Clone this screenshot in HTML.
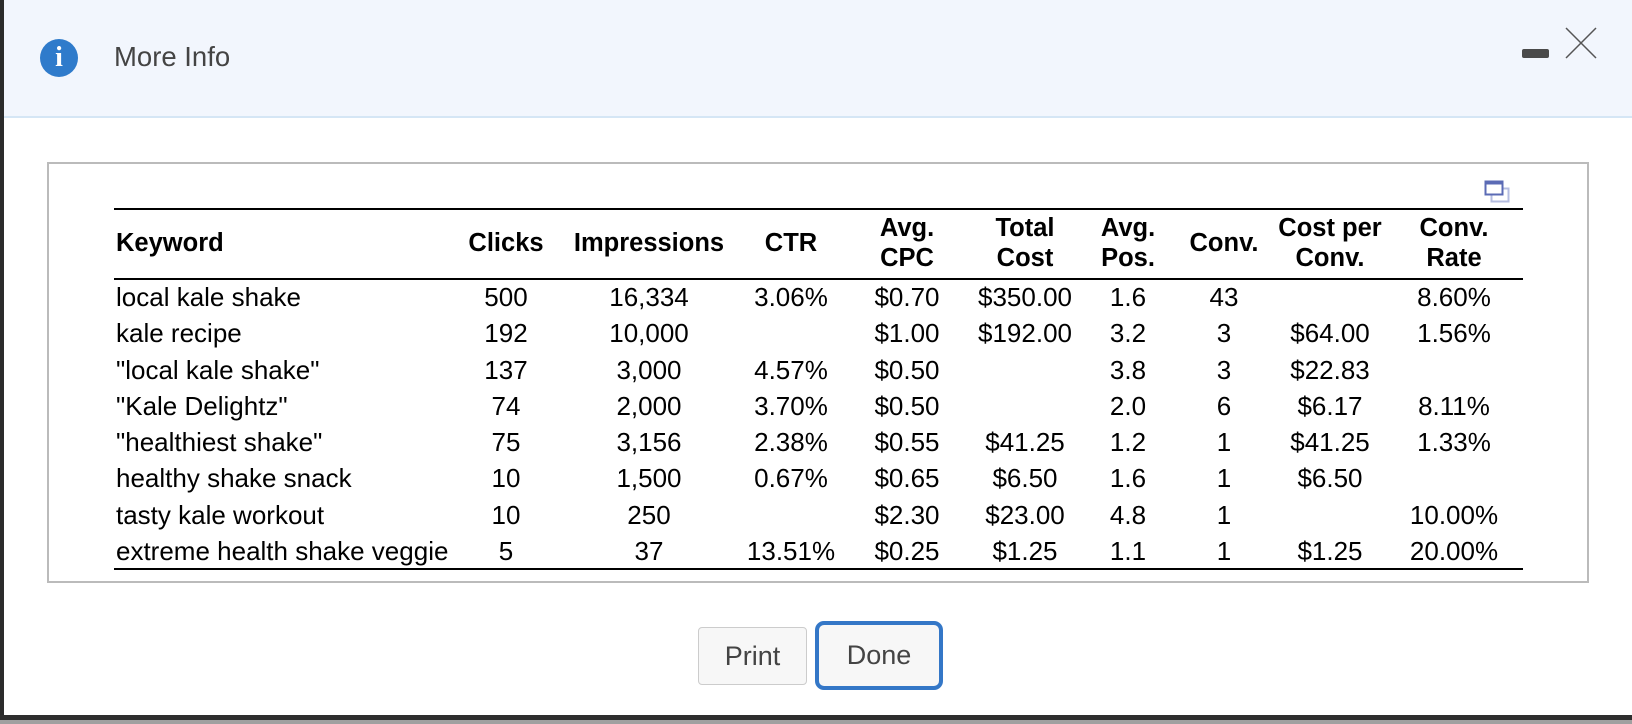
<!DOCTYPE html>
<html><head><meta charset="utf-8">
<style>
html,body{margin:0;padding:0;}
body{width:1632px;height:724px;position:relative;overflow:hidden;background:#fff;font-family:"Liberation Sans",Arial,sans-serif;}
.abs{position:absolute;}
#header{left:0;top:0;width:1632px;height:116px;background:#f2f6fd;border-bottom:2px solid #d5e6f5;}
#leftbar{left:0;top:0;width:4px;height:724px;background:#2b2b2b;}
#info{left:40px;top:39px;width:38px;height:38px;border-radius:50%;background:#2f7bcb;color:#fff;font:bold 28px "Liberation Serif",serif;text-align:center;line-height:38px;}
#title{left:114px;top:41px;font-size:27.5px;color:#444;}
#minus{left:1522px;top:49px;width:27px;height:9px;background:#4a4a4a;border-radius:2px;}
#panel{left:47px;top:162px;width:1538px;height:417px;border:2px solid #bbb;}
.cell{position:absolute;font-size:26px;color:#000;white-space:nowrap;line-height:30px;}
.hd{font-weight:bold;font-size:25.5px;}
.rule{position:absolute;left:114px;width:1409px;height:2px;background:#000;}
.btn{position:absolute;background:#f7f7f7;color:#444;font-size:27px;text-align:center;box-sizing:border-box;}
#bottom1{left:0;top:715px;width:1632px;height:5px;background:#2e2e2e;}
#bottom2{left:0;top:720px;width:1632px;height:4px;background:#a0a0a0;}
</style></head>
<body>
<div id="header" class="abs"></div>
<div id="leftbar" class="abs"></div>
<div id="info" class="abs">i</div>
<div id="title" class="abs">More Info</div>
<div id="minus" class="abs"></div>
<svg class="abs" style="left:1562px;top:24px" width="38" height="38">
<line x1="4" y1="4" x2="34" y2="34" stroke="#555" stroke-width="1.5"/><line x1="34" y1="4" x2="4" y2="34" stroke="#555" stroke-width="1.5"/></svg>
<div id="panel" class="abs"></div>
<svg class="abs" style="left:1483px;top:179px" width="30" height="26">
<rect x="8.5" y="9.5" width="17" height="13" fill="none" stroke="#b5bde0" stroke-width="2"/>
<rect x="2.5" y="2.5" width="17" height="13" fill="#fff" stroke="#5b6bb5" stroke-width="2"/>
<rect x="2.5" y="2.5" width="17" height="3" fill="#5b6bb5"/></svg>
<div class="rule" style="top:208px"></div>
<div class="rule" style="top:278px"></div>
<div class="rule" style="top:568px"></div>
<div id="table"></div>
<div class="btn" style="left:698px;top:627px;width:109px;height:58px;border:1px solid #ccc;border-radius:4px;line-height:56px;">Print</div>
<div class="btn" style="left:815px;top:621px;width:128px;height:69px;border:4px solid #3477c7;border-radius:9px;line-height:61px;">Done</div>
<div id="bottom1" class="abs"></div>
<div id="bottom2" class="abs"></div>
<script>
var headers = [["Keyword"],["Clicks"],["Impressions"],["CTR"],["Avg.","CPC"],["Total","Cost"],["Avg.","Pos."],["Conv."],["Cost per","Conv."],["Conv.","Rate"]];
var keywords = ["local kale shake","kale recipe","\"local kale shake\"","\"Kale Delightz\"","\"healthiest shake\"","healthy shake snack","tasty kale workout","extreme health shake veggie"];
var clicks = ["500","192","137","74","75","10","10","5"];
var impressions = ["16,334","10,000","3,000","2,000","3,156","1,500","250","37"];
var ctr = ["3.06%","","4.57%","3.70%","2.38%","0.67%","","13.51%"];
var avgCpc = ["$0.70","$1.00","$0.50","$0.50","$0.55","$0.65","$2.30","$0.25"];
var totalCost = ["$350.00","$192.00","","","$41.25","$6.50","$23.00","$1.25"];
var avgPos = ["1.6","3.2","3.8","2.0","1.2","1.6","4.8","1.1"];
var conv = ["43","3","3","6","1","1","1","1"];
var costPerConv = ["","$64.00","$22.83","$6.17","$41.25","$6.50","","$1.25"];
var convRate = ["8.60%","1.56%","","8.11%","1.33%","","10.00%","20.00%"];
var cols = [keywords,clicks,impressions,ctr,avgCpc,totalCost,avgPos,conv,costPerConv,convRate];
var centers = [null,506,649,791,907,1025,1128,1224,1330,1454];
var tbl = document.getElementById('table');
function place(el, ci, y){
  if(ci===0){ el.style.left='116px'; }
  else { el.style.left=(centers[ci]-150)+'px'; el.style.width='300px'; el.style.textAlign='center'; }
  el.style.top=y+'px';
}
headers.forEach(function(h, ci){
  var el=document.createElement('div');
  
  
  el.className='cell hd';
  el.innerHTML=h.join('<br>');
  place(el, ci, h.length===1 ? 228 : 213);
  tbl.appendChild(el);
});
var rowTop=279, rowH=36.25;
for(var r=0;r<keywords.length;r++){
  for(var ci=0;ci<cols.length;ci++){
    var v=cols[ci][r]; if(!v) continue;
    var el=document.createElement('div');
    
    
    el.className='cell';
    el.textContent=v;
    place(el, ci, Math.round(rowTop+rowH*r+rowH/2-15));
    tbl.appendChild(el);
  }
}
</script>
</body></html>
